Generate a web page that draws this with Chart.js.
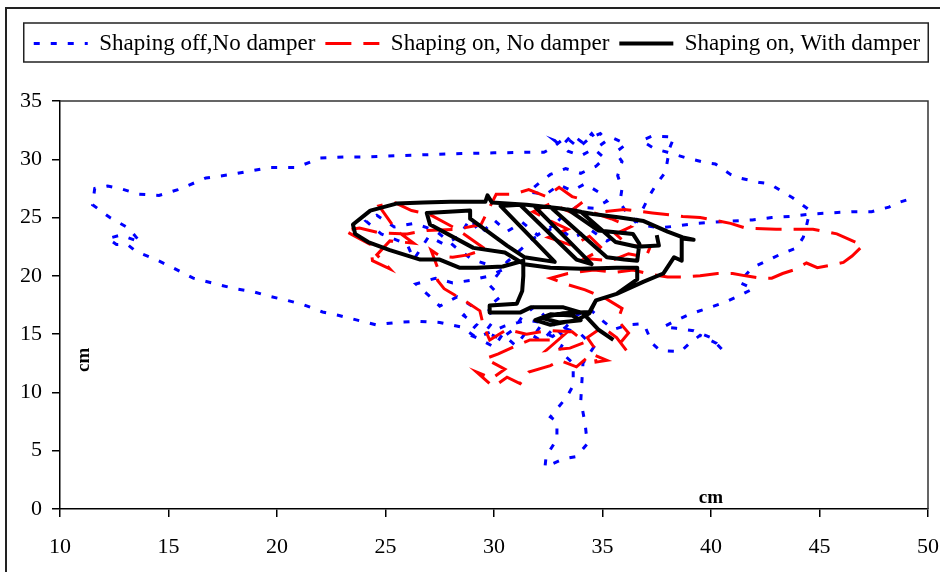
<!DOCTYPE html>
<html>
<head>
<meta charset="utf-8">
<script src="https://cdn.jsdelivr.net/npm/chart.js@4.4.0/dist/chart.umd.min.js"></script>
<style>
  html, body { margin: 0; padding: 0; background: #fff; }
  #wrap { width: 940px; height: 572px; }
</style>
</head>
<body>
<div id="wrap"><canvas id="trajChart" width="940" height="572"></canvas></div>
<script>
// legend labels and axis ticks
const seriesLabels = ['Shaping off,No damper', 'Shaping on, No damper', 'Shaping on, With damper'];
const xTicks = [10, 15, 20, 25, 30, 35, 40, 45, 50];
const yTicks = [0, 5, 10, 15, 20, 25, 30, 35];

// trajectory points [x cm, y cm]
const shapingOffNoDamper = [
    [49.0,26.5],[48.5,26.2],[48.2,25.9],[47.4,25.5],[46.5,25.5],[45.5,25.4],[44.6,25.3],[43.7,25.1],[42.8,25.0],
    [41.9,24.8],[41.0,24.7],[40.1,24.6],[39.3,24.5],[38.5,24.3],[37.6,24.1],[36.8,24.4],
    [36.2,25.2],[35.8,26.3],[35.9,27.5],[35.7,28.6],[35.9,29.8],[35.6,30.6],[36.1,31.3],[35.4,31.9],[34.9,31.2],
    [34.5,32.2],[34.1,31.4],[33.6,32.1],[33.2,31.3],[32.8,31.6],[33.4,30.7],[34.0,30.3],[34.6,30.9],[35.1,30.1],
    [34.7,29.4],[34.0,28.8],[33.3,29.2],[32.6,28.7],[32.1,28.0],[31.6,27.2],[32.4,27.0],[33.0,27.8],[33.6,27.3],
    [34.2,27.9],[34.8,27.2],[35.2,26.4],[34.6,25.8],[33.8,25.9],[33.2,25.2],
    [32.6,24.0],[31.8,23.2],[31.2,22.2],[30.6,21.2],[30.2,20.2],[29.8,19.2],[30.3,18.2],[29.7,17.3],[30.0,16.2],
    [29.6,15.2],[30.3,14.6],[30.9,15.4],[31.3,16.5],[31.9,17.4],[32.4,16.4],[32.0,15.3],[32.7,14.8],[33.3,15.6],
    [33.8,16.6],[34.4,17.2],[34.9,16.3],[35.5,15.4],[36.2,15.8],[36.9,15.9],[37.3,14.2],[37.65,13.6],[38.6,13.5],
    [39.0,14.2],[39.5,14.9],[40.26,14.2],[40.55,13.6],
    [40.0,14.7],[39.2,15.3],[38.4,15.5],[37.8,15.6],[38.2,16.0],[39.0,16.7],[39.8,17.2],[40.6,17.7],[41.2,18.2],
    [41.95,18.9],[41.3,19.45],[41.9,20.7],[42.7,21.4],[43.25,21.9],[43.95,22.4],[44.25,23.3],[44.4,24.3],[44.5,25.1],
    [44.5,25.7],[43.76,26.7],[43.4,27.1],[42.7,27.9],[42.26,28.0],[41.3,28.4],[40.9,28.7],[40.2,29.6],[39.8,29.7],
    [38.9,30.1],[38.0,30.6],[37.4,30.9],[36.8,31.6],[37.3,32.0],[38.3,31.9],[38.1,31.0],[37.9,28.9],[37.5,27.9],
    [37.2,27.0],[36.9,25.9],[36.6,24.8],[36.0,23.8],
    [35.2,23.0],[34.4,24.0],[33.6,23.2],[32.8,24.4],[32.0,23.5],[31.3,24.6],[30.6,23.8],[30.0,24.8],[29.4,23.6],
    [28.9,24.9],[28.4,23.4],[27.7,22.7],[27.0,23.4],[26.3,21.4],[26.0,22.7],[24.8,23.6],[24.1,24.7],[24.6,25.2],
    [25.4,24.2],[26.3,24.5],[27.3,23.9],[28.2,22.5],[29.0,21.4],[30.0,20.8],[30.6,20.7],[29.8,20.0],[28.9,19.6],
    [28.1,19.4],[27.3,19.8],[26.4,19.3],[27.0,18.3],[27.5,17.4],[28.3,18.2],[29.0,17.4],[28.6,16.6],[29.2,15.8],
    [28.8,15.0],[29.2,14.7],
    [30.0,13.9],[30.4,15.0],[31.0,14.0],[31.5,15.2],[32.2,14.4],[32.8,15.6],[33.3,14.6],[33.0,13.6],[33.65,12.5],
    [33.65,10.6],[33.35,9.6],[32.6,7.9],[32.9,7.5],[32.9,6.0],[32.4,4.5],[32.35,3.6],[33.2,4.3],[33.8,4.5],
    [34.3,5.6],[34.2,7.3],[34.0,9.3],[34.1,12.5],[34.6,13.9],[34.0,15.0],[32.8,15.8],[31.5,16.2],[30.5,15.7],
    [29.2,14.7],
    [28.5,15.6],[27.5,16.0],[26.5,16.1],[25.5,16.0],[24.56,15.8],[23.7,16.2],[22.86,16.6],[22.1,16.9],[21.26,17.5],
    [20.47,17.9],[19.63,18.25],[18.9,18.65],[18.06,18.9],[17.2,19.3],[16.14,19.8],[15.1,20.8],[14.3,21.5],[13.5,22.1],
    [13.1,22.7],[12.6,22.7],[12.2,23.2],[12.8,23.5],[13.7,22.9],[13.15,24.1],[12.3,25.0],[11.5,26.1],[11.6,27.5],
    [12.2,27.7],[12.76,27.5],[13.65,27.0],[14.56,26.9],[15.44,27.4],[15.84,27.7],[16.73,28.4],[17.9,28.7],[18.76,29.0],
    [19.68,29.3],[20.9,29.3],[21.98,30.1],[23.2,30.2],[24.05,30.2],[25.5,30.3],[27.0,30.4],[28.5,30.5],[30.0,30.55],
    [31.5,30.6],[32.3,30.6],[32.7,31.0],[33.3,31.9],[33.9,31.0],[34.4,31.8],[34.9,32.2],[35.3,31.4]
];

const shapingOnNoDamper = [
    [36.1,13.6],[35.65,14.7],[35.0,15.6],[34.3,14.7],[34.6,13.9],[34.7,12.6],[35.2,12.75],[34.5,13.3],[33.8,12.2],
    [33.04,12.75],[32.6,12.3],[31.6,11.75],[31.2,10.75],[30.6,11.3],[30.0,10.5],[29.8,10.75],[29.2,11.75],[29.9,11.2],
    [30.5,12.0],[29.6,12.9],[30.2,13.3],[30.9,13.9],[31.66,14.5],[32.6,14.5],[33.2,14.9],[32.4,13.6],[33.5,13.8],
    [34.2,14.3],[33.6,15.2],[32.5,15.3],[31.5,15.0],[30.6,15.4],[29.8,14.5],[29.5,15.8],[29.35,17.0],[28.7,17.8],
    [27.7,18.9],[27.4,19.6],[27.4,20.7],[27.1,22.2],[27.5,21.7],[28.1,21.6],[28.8,21.8],[29.6,22.3],
    [28.3,24.0],[26.9,23.9],[26.0,23.6],[24.7,23.7],[23.8,24.1],[23.1,23.9],[23.5,23.5],[24.3,22.7],[24.4,21.3],
    [25.2,20.6],[24.6,21.8],[25.2,23.0],[26.3,22.8],[25.5,23.9],[24.7,26.0],[25.4,26.3],[26.2,25.6],[27.0,25.3],
    [28.3,24.0],[29.4,24.4],[30.1,27.0],[30.9,27.0],[31.6,27.4],[32.4,26.8],[33.0,27.6],[33.6,26.8],[34.2,26.5],
    [33.5,25.5],[32.6,26.2],[31.8,25.5],[32.6,24.7],[33.4,24.0],[32.5,23.3],[33.6,22.6],[34.4,23.4],[35.0,22.3],
    [34.2,21.5],[35.4,21.3],[36.2,21.9],[37.0,21.6],[37.2,22.5],[36.2,22.6],[35.6,23.6],[36.3,24.2],[35.4,24.9],
    [34.6,25.4],[36.0,25.7],[37.3,25.4],[38.7,25.1],[39.5,25.0],[40.9,24.5],[41.6,24.1],[43.0,24.0],[44.7,24.0],
    [45.8,23.6],[47.0,22.6],[46.5,21.7],[46.1,21.15],[45.5,20.9],[44.9,20.7],[44.4,21.1],[43.8,20.5],[43.3,20.2],
    [42.8,19.8],[42.3,19.8],[41.6,20.0],[41.0,20.2],[40.3,20.2],[39.5,20.0],[38.7,19.9],[38.0,19.9],[37.3,20.1],
    [36.4,20.5],[35.6,20.3],[34.6,20.5],[33.4,20.2],[32.6,19.8],[33.3,19.3],[34.2,18.8],[35.2,18.0],[35.9,17.2],
    [35.7,16.2],[36.2,15.1],[35.8,14.2]
];

const shapingOnWithDamper = [
    [35.5,14.5],[34.8,15.4],[34.1,16.8],[33.2,17.3],[31.7,17.3],[31.2,16.85],[29.8,16.85],[29.8,17.45],[31.05,17.6],
    [31.3,18.7],[31.35,20.0],[31.35,21.3],[30.4,20.8],[29.2,20.7],[28.4,20.7],[27.5,21.4],[26.6,21.4],[25.2,22.2],
    [24.2,22.9],[23.6,23.6],[23.5,24.4],[24.3,25.6],[25.5,26.2],[26.75,26.3],[28.0,26.35],[29.6,26.35],[29.7,26.9],
    [29.9,26.3],[31.5,26.1],[33.0,25.8],[34.56,25.3],[35.8,25.0],[36.9,24.7],[38.0,23.8],[38.7,23.3],[39.2,23.1],
    [38.65,23.2],[38.65,21.3],[38.3,21.6],[37.8,20.2],[36.9,19.5],[35.65,18.45],[34.7,17.9],[34.4,16.8],[33.8,16.2],
    [32.6,15.8],[31.9,16.2],[32.6,16.7],[33.6,16.6],[34.0,16.2],[33.0,16.0],[32.2,16.4],[33.2,16.8],
    [34.4,16.9],[34.7,17.9],[35.65,18.45],[36.6,19.7],[36.6,20.7],[35.65,20.7],[34.0,20.6],[32.6,20.7],[31.4,21.0],
    [30.5,22.0],[29.05,22.4],[27.05,24.4],[26.9,25.4],[28.9,25.6],[28.9,24.9],[30.6,22.6],[31.4,21.6],[32.8,21.2],
    [30.3,26.0],[31.2,26.1],[33.8,21.4],[34.5,21.0],[31.9,25.9],[32.6,25.9],[35.2,21.6],[36.0,21.4],[36.6,21.3],
    [36.7,22.75],[36.4,23.6],[34.8,23.9],[33.4,25.7],[34.0,25.5],[35.6,22.9],[36.6,22.5],[37.6,22.6],[37.5,23.5]
];

const toPoints = pts => pts.map(([x, y]) => ({ x, y }));

const frameAndUnits = {
    id: 'frameAndUnits',
    beforeDatasetsDraw(chart) {
        const { ctx, chartArea: a } = chart;
        ctx.save();
        // thin frame on top and right of plot area
        ctx.strokeStyle = '#333';
        ctx.lineWidth = 1.5;
        ctx.beginPath();
        ctx.moveTo(a.left, a.top);
        ctx.lineTo(a.right, a.top);
        ctx.lineTo(a.right, a.bottom);
        ctx.stroke();
        ctx.restore();
    },
    afterDraw(chart) {
        const { ctx, scales: { x, y } } = chart;
        ctx.save();
        // outer figure border
        ctx.strokeStyle = '#222';
        ctx.lineWidth = 2;
        ctx.beginPath();
        ctx.moveTo(6, 580);
        ctx.lineTo(6, 8);
        ctx.lineTo(940, 8);
        ctx.stroke();

        // box round the legend
        const boxes = chart.legend.legendHitBoxes;
        if (boxes.length) {
            const first = boxes[0];
            const last = boxes[boxes.length - 1];
            const left = first.left - 10;
            const right = last.left + last.width + 8;
            const top = first.top - 9;
            const bottom = first.top + first.height + 7;
            ctx.strokeStyle = '#222';
            ctx.lineWidth = 1.5;
            ctx.strokeRect(left, top, right - left, bottom - top);
        }

        // axis unit labels inside the plot
        ctx.fillStyle = '#000';
        ctx.font = 'bold 19px "Liberation Serif", serif';
        ctx.textAlign = 'center';
        ctx.textBaseline = 'middle';
        ctx.fillText('cm', x.getPixelForValue(40), y.getPixelForValue(0.9));
        ctx.translate(x.getPixelForValue(11.1), y.getPixelForValue(12.8));
        ctx.rotate(-Math.PI / 2);
        ctx.fillText('cm', 0, 0);
        ctx.restore();
    }
};

Chart.defaults.font.family = '"Liberation Serif", "Times New Roman", serif';
Chart.defaults.color = '#000';

const ctx = document.getElementById('trajChart').getContext('2d');
new Chart(ctx, {
    type: 'scatter',
    data: {
        datasets: [{
            label: seriesLabels[0],
            data: toPoints(shapingOffNoDamper),
            showLine: true,
            borderColor: '#0000ff',
            backgroundColor: '#0000ff',
            borderWidth: 3,
            borderDash: [6, 11],
            pointRadius: 0,
            pointStyle: 'line',
            order: 3
        }, {
            label: seriesLabels[1],
            data: toPoints(shapingOnNoDamper),
            showLine: true,
            borderColor: '#ff0000',
            backgroundColor: '#ff0000',
            borderWidth: 3,
            borderDash: [26, 12],
            pointRadius: 0,
            pointStyle: 'line',
            order: 2
        }, {
            label: seriesLabels[2],
            data: toPoints(shapingOnWithDamper),
            showLine: true,
            borderColor: '#000000',
            backgroundColor: '#000000',
            borderWidth: 4,
            borderJoinStyle: 'round',
            pointRadius: 0,
            pointStyle: 'line',
            order: 1
        }]
    },
    options: {
        responsive: false,
        animation: false,
        layout: {
            padding: { top: 22, left: 14, right: 0, bottom: 13 }
        },
        plugins: {
            legend: {
                position: 'top',
                labels: {
                    usePointStyle: true,
                    pointStyleWidth: 54,
                    padding: 10,
                    color: '#000',
                    font: { size: 23 },
                    // keep the dash pattern and width of each line in its legend sample
                    generateLabels: chart => Chart.defaults.plugins.legend.labels.generateLabels(chart).map(item => {
                        const ds = chart.data.datasets[item.datasetIndex];
                        return { ...item, lineDash: ds.borderDash || [], lineWidth: ds.borderWidth, strokeStyle: ds.borderColor };
                    }),
                    sort: (a, b) => a.datasetIndex - b.datasetIndex
                }
            },
            // empty title used as a spacer between legend and plot
            title: {
                display: true,
                text: '',
                weight: 500,
                padding: { top: 0, bottom: 24 },
                font: { size: 10 }
            },
            tooltip: { enabled: false }
        },
        scales: {
            x: {
                type: 'linear',
                min: 10,
                max: 50,
                afterBuildTicks: s => { s.ticks = xTicks.map(v => ({ value: v })); },
                afterFit: s => { s.height = 50; s.paddingLeft = 0; s.paddingRight = 12; },
                ticks: { font: { size: 22 }, padding: 17, color: '#000' },
                grid: { drawOnChartArea: false, drawTicks: true, tickLength: 8, color: '#000', lineWidth: 1.5 },
                border: { display: true, color: '#000', width: 1.5 }
            },
            y: {
                type: 'linear',
                min: 0,
                max: 35,
                afterBuildTicks: s => { s.ticks = yTicks.map(v => ({ value: v })); },
                afterFit: s => { s.width = 46; },
                ticks: { font: { size: 22 }, padding: 10, color: '#000' },
                grid: { drawOnChartArea: false, drawTicks: true, tickLength: 8, color: '#000', lineWidth: 1.5 },
                border: { display: true, color: '#000', width: 1.5 }
            }
        }
    },
    plugins: [frameAndUnits]
});
</script>
</body>
</html>
